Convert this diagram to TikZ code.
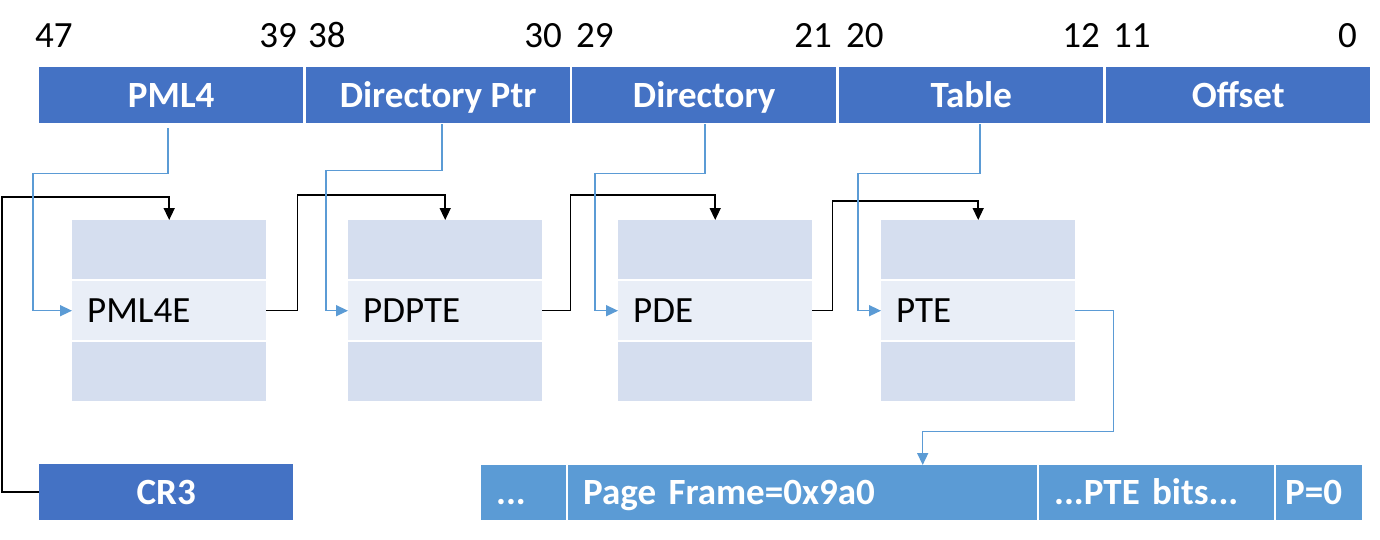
\documentclass[tikz,border=0pt]{standalone}
\usepackage{fontspec}
\setmainfont{Carlito}
\usetikzlibrary{arrows.meta,calc}
\definecolor{topblue}{HTML}{4472C4}
\definecolor{botblue}{HTML}{5B9BD5}
\definecolor{rowfill}{HTML}{D5DEEF}
\definecolor{rowmid}{HTML}{E9EEF7}
\definecolor{lineblue}{HTML}{5B9BD5}
\newcommand{\lblfont}{\fontsize{37}{44}\selectfont}
\begin{document}
\begin{tikzpicture}[x=1pt,y=-1pt,
 seg/.style={fill=topblue,text=white,font=\lblfont\bfseries,minimum width=264pt,minimum height=56pt,inner sep=0pt,text height=24pt,text depth=0pt,anchor=north west},
 bseg/.style={fill=botblue,text=white,font=\lblfont\bfseries,minimum height=55pt,inner xsep=15pt,inner ysep=0pt,text height=24pt,text depth=0pt,anchor=north west,align=left},
 row/.style={fill=rowfill,minimum width=194pt,minimum height=59pt,inner sep=0pt,anchor=north west},
 midrow/.style={fill=rowmid,text width=164pt,inner xsep=15pt,inner ysep=0pt,minimum height=59pt,text height=24pt,text depth=0pt,anchor=north west,font=\lblfont,align=left},
 bitnum/.style={font=\lblfont,inner sep=0pt},
 blk/.style={draw=black,line width=1.5pt,-{Triangle[length=12pt,width=11pt]}},
 blu/.style={draw=lineblue,line width=1.5pt,-{Triangle[length=12pt,width=11pt]}},
]
\useasboundingbox (0,0) rectangle (1380,540);

% bit numbers
\node[bitnum,anchor=base west] (b47) at (35,48) {47};
\node[bitnum,anchor=base east] (b39) at (297,48) {39};
\node[bitnum,anchor=base west] (b38) at (308,48) {38};
\node[bitnum,anchor=base east] (b30) at (562,48) {30};
\node[bitnum,anchor=base west] (b29) at (576,48) {29};
\node[bitnum,anchor=base east] (b21) at (832,48) {21};
\node[bitnum,anchor=base west] (b20) at (846,48) {20};
\node[bitnum,anchor=base east] (b12) at (1100,48) {12};
\node[bitnum,anchor=base west] (b11) at (1113,48) {11};
\node[bitnum,anchor=base east] (b0) at (1357,48) {0};

% top bar
\node[seg] (pml4) at (39,67) {PML4};
\node[seg] (dptr) at (306,67) {Directory Ptr};
\node[seg] (dir) at (572,67) {Directory};
\node[seg] (tbl) at (839,67) {Table};
\node[seg] (off) at (1106,67) {Offset};

% tables
\foreach \n/\x/\lab in {1/72/PML4E, 2/348/PDPTE, 3/618/PDE, 4/881/PTE}{
  \node[row] (t\n a) at (\x,220) {};
  \node[midrow] (t\n b) at (\x,281) {\lab};
  \node[row] (t\n c) at (\x,342) {};
}

% CR3
\node[seg,minimum width=254pt] (cr3) at (39,464) {CR3};

% bottom bar
\node[bseg,text width=55pt] (dots) at (481,465) {...};
\node[bseg,text width=439pt] (pf) at (568,465) {Page Frame=0x9a0};
\node[bseg,text width=205pt] (bits) at (1039,465) {...PTE bits...};
\node[bseg,inner xsep=9pt,text width=68pt] (pbit) at (1276,465) {P=0};

% black connectors
\draw[blk] (cr3.west) -- ++(-37,0) |- ($(t1a.north)+(0,-23)$) -- (t1a.north);
\draw[blk] (t1b.east) -- ++(31,0) |- ($(t2a.north)+(0,-25)$) -- (t2a.north);
\draw[blk] (t2b.east) -- ++(28,0) |- ($(t3a.north)+(0,-25)$) -- (t3a.north);
\draw[blk] (t3b.east) -- ++(20,0) |- ($(t4a.north)+(0,-19)$) -- (t4a.north);

% blue connectors
\draw[blu] ($(pml4.south)+(-3,5)$) |- ++(-135,45) |- (t1b.west);
\draw[blu] ($(dptr.south)+(4,1)$) |- ++(-116,46) |- (t2b.west);
\draw[blu] ($(dir.south)+(1,1)$) |- ++(-110,49) |- (t3b.west);
\draw[blu] ($(tbl.south)+(9,1)$) |- ++(-122,49) |- (t4b.west);
\draw[blu] (t4b.east) -| ($(t4b.east)+(38,121)$) -| ($(pf.north)+(120,0)$);
\end{tikzpicture}
\end{document}
